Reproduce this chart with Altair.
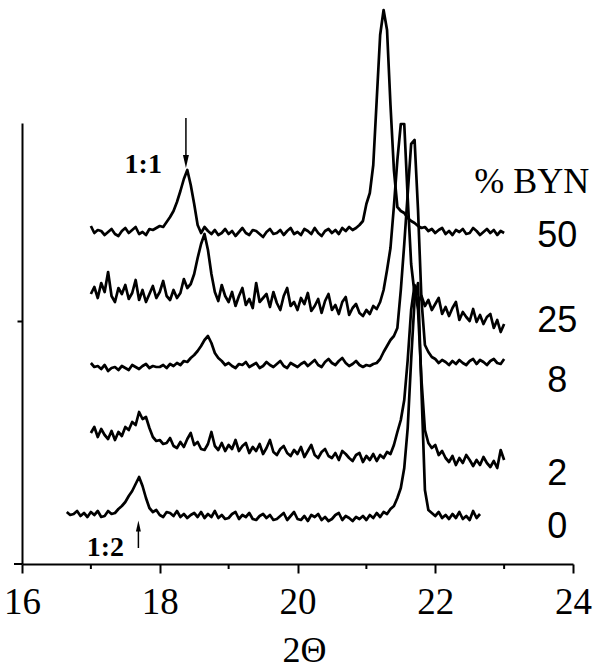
import altair as alt
import pandas as pd

# ---- data (intensity in arbitrary units) ----
STEP = 0.05
start_50, start_25, start_8, start_2, start_0 = 17.00, 17.00, 17.00, 17.00, 16.65

y_50 = [338, 331, 334, 333, 329, 332, 335, 330, 328, 333, 336, 331, 334, 337, 330, 332, 329, 335, 334, 336,
        338, 337, 342, 347, 353, 362, 373, 385, 394, 379, 360, 339, 331, 337, 333, 330, 334, 329, 331, 335,
        330, 333, 328, 332, 336, 331, 329, 334, 333, 330, 327, 332, 335, 330, 331, 334, 329, 333, 336, 330,
        332, 329, 335, 333, 330, 336, 331, 328, 333, 335, 331, 334, 330, 336, 333, 337, 334, 336, 339, 343,
        360, 371, 399, 464, 529, 554, 534, 459, 394, 357, 353, 351, 346, 343, 341, 338, 336, 337, 333, 335,
        331, 334, 336, 330, 333, 329, 334, 332, 335, 330, 331, 336, 333, 329, 332, 335, 331, 334, 329, 333,
        331]

y_25 = [270, 277, 266, 281, 272, 292, 268, 262, 276, 270, 279, 265, 271, 284, 264, 274, 262, 270, 278, 266,
        272, 283, 268, 264, 274, 266, 271, 285, 276, 280, 290, 306, 320, 330, 314, 290, 272, 263, 279, 268,
        262, 272, 258, 268, 276, 259, 265, 256, 281, 262, 266, 270, 257, 272, 261, 254, 268, 276, 258, 262,
        254, 266, 260, 271, 253, 258, 265, 251, 263, 270, 254, 259, 250, 262, 267, 249, 256, 260, 251, 248,
        254, 250, 258, 255, 262, 274, 294, 316, 358, 404, 440, 440, 366, 300, 270, 262, 268, 258, 264, 254,
        260, 266, 250, 257, 248, 256, 262, 244, 252, 247, 243, 255, 242, 249, 240, 247, 250, 236, 244, 232,
        240]

y_8 = [201, 197, 198, 195, 199, 193, 196, 197, 194, 198, 196, 194, 199, 197, 195, 198, 200, 196, 198, 197,
       197, 199, 196, 200, 198, 201, 199, 203, 202, 206, 209, 213, 218, 224, 228, 221, 211, 206, 203, 199,
       201, 198, 196, 200, 199, 202, 197, 199, 201, 196, 198, 202, 199, 197, 200, 203, 198, 196, 201, 199,
       197, 200, 202, 198, 201, 204, 199, 197, 202, 205, 201, 199, 203, 206, 201, 198, 200, 203, 199, 197,
       199, 198, 200, 201, 205, 212, 218, 224, 228, 236, 274, 320, 370, 420, 424, 354, 264, 219, 212, 207,
       205, 201, 204, 202, 199, 203, 200, 204, 201, 199, 203, 205, 200, 204, 202, 199, 203, 205, 201, 200,
       205]

y_2 = [131, 137, 127, 135, 129, 125, 133, 124, 132, 128, 137, 134, 142, 139, 152, 145, 147, 136, 127, 123,
       124, 120, 121, 126, 118, 116, 122, 117, 125, 131, 119, 122, 115, 114, 120, 132, 118, 114, 121, 113,
       119, 115, 124, 113, 118, 121, 111, 117, 113, 120, 110, 116, 124, 112, 109, 115, 118, 111, 108, 114,
       110, 117, 107, 113, 119, 109, 106, 112, 115, 108, 106, 111, 104, 113, 110, 106, 103, 109, 111, 102,
       108, 104, 110, 103, 109, 106, 112, 110, 119, 132, 144, 164, 204, 254, 279, 254, 184, 134, 121, 116,
       119, 109, 113, 106, 102, 108, 99, 106, 101, 109, 104, 98, 104, 99, 107, 101, 97, 103, 96, 114,
       104]

y_0 = [52, 49, 50, 53, 48, 51, 47, 52, 49, 53, 47, 48, 53, 50, 51,
       55, 58, 62, 68, 73, 80, 87, 78, 66, 56,
       52, 54, 49, 47, 52, 51, 48, 53, 47, 50, 46, 49, 51, 47, 52, 46, 50, 47, 53, 46,
       49, 45, 46, 50, 52, 45, 49, 47, 51, 45, 44, 48, 50, 46, 49, 44, 45, 48, 51, 44,
       48, 52, 45, 44, 48, 43, 49, 47, 50, 44, 47, 43, 45, 49, 51, 44, 48, 46, 43, 47,
       45, 48, 44, 49, 46, 51, 47, 52, 50, 55, 58, 66, 76, 96, 136, 204, 264, 281, 174, 74,
       54, 51, 48, 52, 46, 49, 45, 50, 46, 52, 45, 48, 44, 53, 46, 50]

series_names = ["50", "25", "8", "2", "0"]
label_x = [23.77, 23.77, 23.77, 23.77, 23.77]
label_y = [317, 232, 172, 79, 26]

header_text = ["% BYN"]
header_x = [23.40]
header_y = [371]

ratio_text = ["1:1", "1:2"]
ratio_x = [17.76, 17.21]
ratio_y = [391, 8]

arrow_x = [18.38, 17.69]
arrow_from = [446, 16]
arrow_to = [405, 36]
arrow_head_y = [402.5, 38]
arrow_dir = ["down", "up"]

x_ticks = [16, 18, 20, 22, 24]
x_minor = [17, 19, 21, 23]
y_ticks = [243]

# ---- build tables ----
rows = []
for name, start, yv in zip(series_names, [start_50, start_25, start_8, start_2, start_0],
                           [y_50, y_25, y_8, y_2, y_0]):
    for i, v in enumerate(yv):
        rows.append({"series": name, "order": i, "x": round(start + STEP * i, 3), "y": v})
traces = pd.DataFrame(rows)

labels = pd.DataFrame({"t": series_names, "x": label_x, "y": label_y})
header = pd.DataFrame({"t": header_text, "x": header_x, "y": header_y})
ratios = pd.DataFrame({"t": ratio_text, "x": ratio_x, "y": ratio_y})
arrows = pd.DataFrame({"x": arrow_x, "y": arrow_from, "y2": arrow_to,
                       "hy": arrow_head_y, "dir": arrow_dir})
minor = pd.DataFrame({"x": x_minor})

W, H = 551, 441
xs = alt.Scale(domain=[16, 24], nice=False, zero=False)
ys = alt.Scale(domain=[0, 441], nice=False, zero=False)
SERIF = "Liberation Serif, Times New Roman, serif"

lines = alt.Chart(traces).mark_line(color="black", strokeWidth=2.7, strokeJoin="round").encode(
    x=alt.X("x:Q", scale=xs,
            axis=alt.Axis(values=x_ticks, format="d", title="2Θ", titleFont=SERIF, titleFontSize=36,
                          titleFontWeight="normal", titleColor="black", titleX=282, titleY=97,
                          titleBaseline="alphabetic", titleAlign="center",
                          labelFont=SERIF, labelFontSize=37, labelColor="black",
                          labelPadding=11, tickSize=9, tickWidth=2, tickColor="black",
                          domainColor="black", domainWidth=2, grid=False, labelFlush=False)),
    y=alt.Y("y:Q", scale=ys,
            axis=alt.Axis(values=y_ticks, labels=False, title=None, tickSize=5, tickWidth=2,
                          tickColor="black", domainColor="black", domainWidth=2, grid=False)),
    detail="series:N",
    order="order:Q",
)

num_text = alt.Chart(labels).mark_text(font="Liberation Sans", fontSize=36, color="black",
                                       align="center", baseline="alphabetic").encode(
    x=alt.X("x:Q", scale=xs), y=alt.Y("y:Q", scale=ys), text="t:N")

head_text = alt.Chart(header).mark_text(font=SERIF, fontSize=36, color="black",
                                        align="center", baseline="alphabetic").encode(
    x=alt.X("x:Q", scale=xs), y=alt.Y("y:Q", scale=ys), text="t:N")

ratio_marks = alt.Chart(ratios).mark_text(font=SERIF, fontSize=28, fontWeight="bold",
                                          color="black", align="center", baseline="alphabetic").encode(
    x=alt.X("x:Q", scale=xs), y=alt.Y("y:Q", scale=ys), text="t:N")

arrow_shafts = alt.Chart(arrows).mark_rule(color="black", strokeWidth=1.5).encode(
    x=alt.X("x:Q", scale=xs), y=alt.Y("y:Q", scale=ys), y2="y2:Q")

head_down = alt.Chart(arrows).transform_filter(alt.datum.dir == "down").mark_point(
    shape="M-0.46,-1L0.46,-1L0,1Z", filled=True, color="black", opacity=1, size=169).encode(
    x=alt.X("x:Q", scale=xs), y=alt.Y("hy:Q", scale=ys))

head_up = alt.Chart(arrows).transform_filter(alt.datum.dir == "up").mark_point(
    shape="M-0.45,1L0.45,1L0,-1Z", filled=True, color="black", opacity=1, size=121).encode(
    x=alt.X("x:Q", scale=xs), y=alt.Y("hy:Q", scale=ys))

minor_ticks = alt.Chart(minor).mark_rule(color="black", strokeWidth=2).encode(
    x=alt.X("x:Q", scale=xs), y=alt.value(H), y2=alt.value(H + 5))

axis_ext = alt.Chart(minor).transform_filter(alt.datum.x == 17).mark_rule(
    color="black", strokeWidth=2).encode(x=alt.value(-8), x2=alt.value(0), y=alt.value(H))

chart = alt.layer(lines, num_text, head_text, ratio_marks, arrow_shafts, head_down, head_up,
                  minor_ticks, axis_ext).properties(
    width=W, height=H,
    autosize=alt.AutoSizeParams(type="none"),
    padding={"left": 22, "top": 123, "right": 22, "bottom": 106},
    background="white",
).configure_view(stroke=None)

chart.save("out.html", embed_options={"renderer": "svg", "actions": False})
